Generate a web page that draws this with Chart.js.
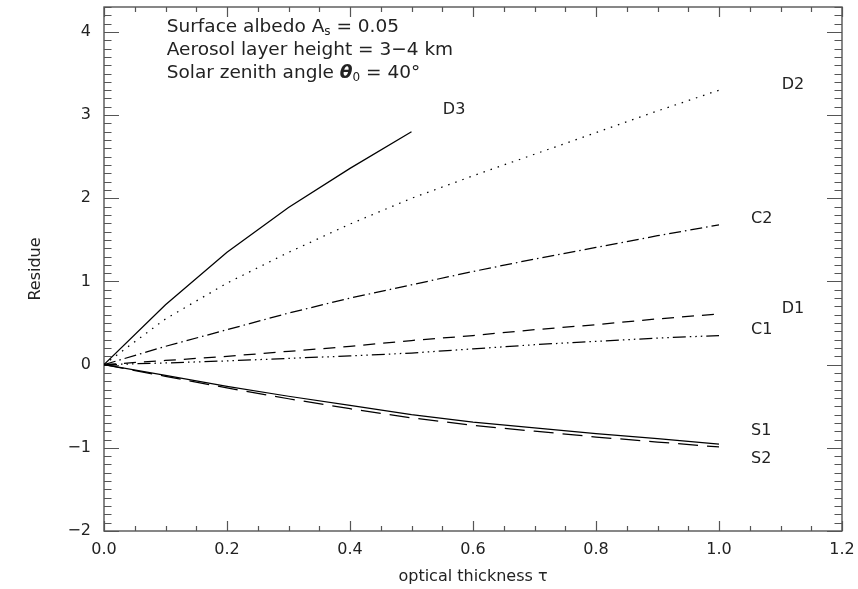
<!DOCTYPE html>
<html><head><meta charset="utf-8">
<script src="https://cdn.jsdelivr.net/npm/chart.js@4.4.1/dist/chart.umd.min.js"></script>
<style>html,body{margin:0;padding:0;background:#fff}</style>
</head><body>
<canvas id="c" width="858" height="589"></canvas>
<script>
// ---- data ----
const tau   = [0, 0.1, 0.2, 0.3, 0.4, 0.5, 0.6, 0.7, 0.8, 0.9, 1.0];
const tauD3 = [0, 0.1, 0.2, 0.3, 0.4, 0.5];
const D3 = [0, 0.72, 1.35, 1.89, 2.36, 2.80];
const D2 = [0, 0.55, 0.98, 1.35, 1.69, 2.00, 2.27, 2.53, 2.79, 3.05, 3.30];
const C2 = [0, 0.22, 0.42, 0.62, 0.80, 0.96, 1.12, 1.27, 1.41, 1.55, 1.68];
const D1 = [0, 0.05, 0.10, 0.16, 0.22, 0.29, 0.35, 0.42, 0.48, 0.55, 0.61];
const C1 = [0, 0.02, 0.045, 0.075, 0.105, 0.14, 0.19, 0.24, 0.28, 0.32, 0.35];
const S1 = [0, -0.13, -0.26, -0.38, -0.49, -0.60, -0.69, -0.76, -0.83, -0.89, -0.955];
const S2 = [0, -0.14, -0.28, -0.41, -0.53, -0.64, -0.73, -0.80, -0.87, -0.93, -0.99];
const xTicks = [0, 0.2, 0.4, 0.6, 0.8, 1.0, 1.2];
const yTicks = [-2, -1, 0, 1, 2, 3, 4];
const curveNames = ['D3', 'D2', 'C2', 'D1', 'C1', 'S1', 'S2'];
const labelTau   = [0.551, 1.102, 1.052, 1.102, 1.052, 1.052, 1.052];
const labelValue = [3.06, 3.37, 1.75, 0.67, 0.42, -0.80, -1.13];
const xTitle = 'optical thickness τ';
const yTitle = 'Residue';

const FONT = "'DejaVu Sans', sans-serif";
const TXT = '#222';
const AX = '#555';

function pts(xs, ys) { return ys.map((v, i) => ({x: xs[i], y: v})); }
function ds(label, xs, ys, dash) {
  return {label, data: pts(xs, ys), borderColor: '#000', borderWidth: 1.25,
          borderDash: dash, pointRadius: 0, tension: 0, fill: false};
}

const framePlugin = {
  id: 'frame',
  beforeDatasetsDraw(chart) {
    const {ctx, chartArea: a, scales: {x, y}} = chart;
    ctx.save();
    ctx.strokeStyle = AX; ctx.lineWidth = 1.4;
    ctx.strokeRect(a.left, a.top, a.right - a.left, a.bottom - a.top);
    ctx.lineWidth = 1.2;
    ctx.beginPath();
    for (let i = 0; i <= 24; i++) {
      const v = i * 0.05; const px = Math.round(x.getPixelForValue(v)) + 0.5;
      const L = (i % 4 === 0) ? 10 : 5;
      ctx.moveTo(px, a.bottom); ctx.lineTo(px, a.bottom - L);
      ctx.moveTo(px, a.top); ctx.lineTo(px, a.top + L);
    }
    for (let i = -20; i <= 43; i++) {
      const v = i / 10; const py = Math.round(y.getPixelForValue(v)) + 0.5;
      const L = (i % 10 === 0) ? 15 : 7.5;
      ctx.moveTo(a.left, py); ctx.lineTo(a.left + L, py);
      ctx.moveTo(a.right, py); ctx.lineTo(a.right - L, py);
    }
    ctx.stroke();
    ctx.restore();
  },
  afterDraw(chart) {
    const {ctx, scales: {x, y}} = chart;
    ctx.save();
    ctx.fillStyle = TXT;
    ctx.textBaseline = 'middle';
    ctx.font = '16px ' + FONT;
    curveNames.forEach((n, i) => {
      ctx.fillText(n, x.getPixelForValue(labelTau[i]), y.getPixelForValue(labelValue[i]));
    });
    // annotation
    const lines = [
      [{t: 'Surface albedo A'}, {t: 's', sub: true}, {t: ' = 0.05'}],
      [{t: 'Aerosol layer height = 3\u22124 km'}],
      [{t: 'Solar zenith angle '}, {t: 'θ', bi: true}, {t: '0', sub: true}, {t: ' = 40°'}]
    ];
    const annTau = 0.102; const annVal = [4.06, 3.78, 3.51];
    lines.forEach((parts, li) => {
      let px = x.getPixelForValue(annTau); const py = y.getPixelForValue(annVal[li]);
      parts.forEach(p => {
        let size = 18.5, dy = 0, style = '';
        if (p.sub) { size = 12; dy = 5; }
        if (p.bi) { style = 'italic bold '; }
        ctx.font = style + size + 'px ' + FONT;
        ctx.fillText(p.t, px, py + dy);
        px += ctx.measureText(p.t).width;
      });
    });
    ctx.restore();
  }
};

function noPad(s) { s.paddingTop = 0; s.paddingBottom = 0; s.paddingLeft = 0; s.paddingRight = 0; }

new Chart(document.getElementById('c'), {
  type: 'line',
  data: {datasets: [
    ds('D3', tauD3, D3, []),
    ds('D2', tau, D2, [1.5, 6]),
    ds('C2', tau, C2, [12, 4, 1.5, 4]),
    ds('D1', tau, D1, [12, 8]),
    ds('C1', tau, C1, [13, 4, 1.5, 4, 1.5, 4, 1.5, 4]),
    ds('S1', tau, S1, []),
    ds('S2', tau, S2, [20, 9])
  ]},
  options: {
    responsive: false, animation: false, devicePixelRatio: 1,
    layout: {padding: {left: 0, right: 16, top: 7, bottom: 0}},
    plugins: {legend: {display: false}, tooltip: {enabled: false}},
    scales: {
      x: {
        type: 'linear', min: 0, max: 1.2,
        grid: {display: false, drawTicks: false}, border: {display: false},
        afterBuildTicks: s => { s.ticks = xTicks.map(v => ({value: v})); },
        afterFit: s => { s.height = 58; noPad(s); },
        ticks: {padding: 9, color: TXT, font: {family: FONT, size: 16},
                callback: v => Number(v).toFixed(1), maxRotation: 0},
        title: {display: true, text: xTitle, color: TXT, font: {family: FONT, size: 16},
                padding: {top: 0, bottom: 3}}
      },
      y: {
        type: 'linear', min: -2, max: 4.3,
        grid: {display: false, drawTicks: false}, border: {display: false},
        afterBuildTicks: s => { s.ticks = yTicks.map(v => ({value: v})); },
        afterFit: s => { s.width = 104; noPad(s); },
        ticks: {padding: 13, color: TXT, font: {family: FONT, size: 16},
                callback: v => String(v).replace('-', '\u2212')},
        title: {display: true, text: yTitle, color: TXT, font: {family: FONT, size: 16},
                padding: {top: 26, bottom: 0}}
      }
    }
  },
  plugins: [framePlugin]
});
</script>
</body></html>
